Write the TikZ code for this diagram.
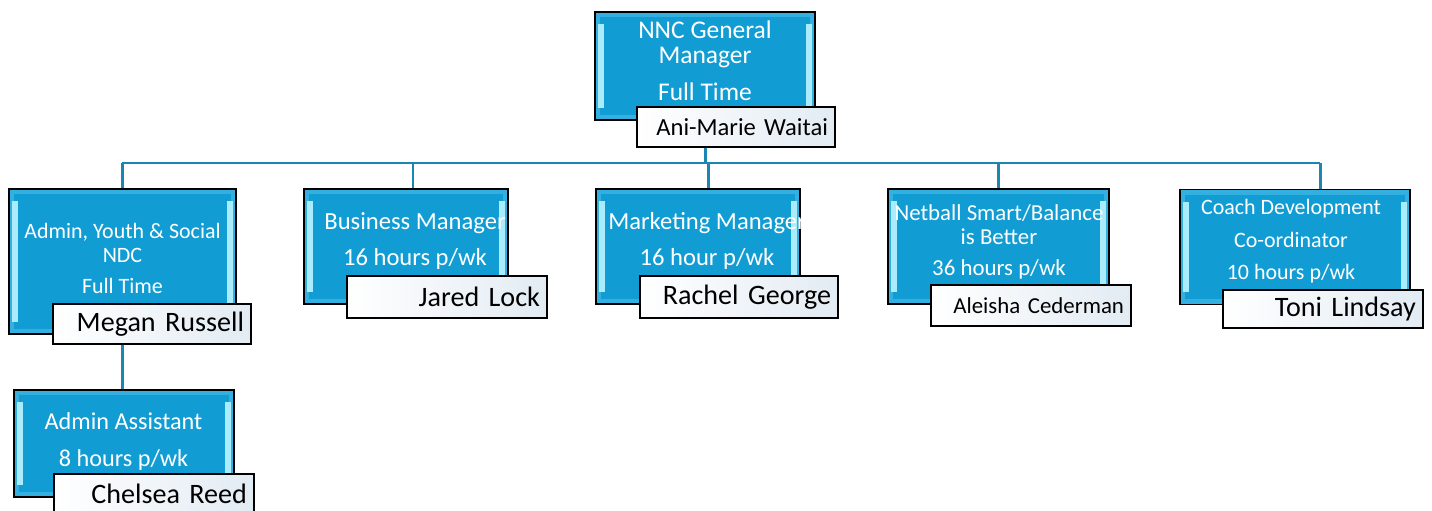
\documentclass[tikz,border=0pt]{standalone}
\usepackage{fontspec}
\setmainfont{Carlito}
\usetikzlibrary{backgrounds}
\definecolor{rolefill}{RGB}{17,157,211}
\definecolor{rolerim}{RGB}{52,176,224}
\definecolor{roleshine}{RGB}{170,236,252}
\definecolor{namefill}{RGB}{226,235,243}
\definecolor{linkblue}{RGB}{27,133,180}
\tikzset{
  rolebox/.style={rectangle, draw=black, line width=1pt, fill=rolefill, inner sep=0pt,
    path picture={
      \draw[rolerim, line width=6pt] (path picture bounding box.south west) rectangle (path picture bounding box.north east);
      \draw[roleshine, line width=3pt] ([shift={(0.12cm,0.24cm)}]path picture bounding box.south west) -- ([shift={(0.12cm,-0.24cm)}]path picture bounding box.north west);
      \draw[roleshine, line width=3pt] ([shift={(-0.12cm,0.24cm)}]path picture bounding box.south east) -- ([shift={(-0.12cm,-0.24cm)}]path picture bounding box.north east);
    }},
  roletext/.style={text=white, align=center, anchor=north, inner sep=0pt},
  namebox/.style={rectangle, draw=black, line width=0.9pt, left color=white, right color=namefill,
    minimum height=0.8cm, inner xsep=0.14cm, inner ysep=0pt, align=right, text width=3.68cm,
    font=\fontsize{16}{18}\selectfont},
  link/.style={draw=linkblue, line width=1.7pt},
}
\begin{document}
\begin{tikzpicture}[x=0.02cm, y=-0.02cm]
\useasboundingbox (0,0) rectangle (1432,510);
% boxes
\node[rolebox, minimum width=4.4cm, minimum height=2.16cm] (gm) at (705,66) {};
\node[rolebox, minimum width=4.54cm, minimum height=2.9cm] (adm) at (122.5,261.5) {};
\node[rolebox, minimum width=4.4cm, minimum height=2.14cm] (aa) at (124,443.5) {};
\node[rolebox, minimum width=4.08cm, minimum height=2.3cm] (bm) at (406,246.5) {};
\node[rolebox, minimum width=4.08cm, minimum height=2.3cm] (mm) at (698,246.5) {};
\node[rolebox, minimum width=4.42cm, minimum height=2.3cm] (nb) at (998.5,246.5) {};
\node[rolebox, minimum width=4.6cm, minimum height=2.3cm] (cd) at (1295,247) {};
% titles
\node[roletext, font=\fontsize{14.5}{14.7}\selectfont] (gmtitle) at (705,20) {NNC General\\Manager\\[6.3pt]Full Time};
\node[roletext, font=\fontsize{12.5}{13.6}\selectfont] (admtitle) at (122.5,223) {Admin, Youth \& Social\\NDC\\[4pt]Full Time};
\node[roletext, font=\fontsize{13.8}{21}\selectfont] (aatitle) at (123.5,412) {Admin Assistant\\8 hours p/wk};
\node[roletext, font=\fontsize{14}{20.4}\selectfont] (bmtitle) at (415,212) {Business Manager\\16 hours p/wk};
\node[roletext, font=\fontsize{14}{20.4}\selectfont] (mmtitle) at (707,212) {Marketing Manager\\16 hour p/wk};
\node[roletext, font=\fontsize{13}{13.6}\selectfont] (nbtitle) at (999,204) {Netball Smart/Balance\\is Better\\[4.4pt]36 hours p/wk};
\node[roletext, font=\fontsize{12.5}{18.5}\selectfont] (cdtitle) at (1291,199) {Coach Development\\Co-ordinator\\10 hours p/wk};
% names
\node[namebox, font=\fontsize{14}{16}\selectfont] (gmname) at (736,127) {Ani-Marie Waitai};
\node[namebox] (admname) at (152,324) {Megan Russell};
\node[namebox, text width=3.72cm] (aaname) at (154,494) {Chelsea Reed};
\node[namebox, text width=3.72cm, minimum height=0.84cm] (bmname) at (447,297) {Jared Lock};
\node[namebox, minimum height=0.84cm] (mmname) at (739,297) {Rachel George};
\node[namebox, text width=3.72cm, minimum height=0.82cm, font=\fontsize{13}{15}\selectfont] (nbname) at (1031,305.5) {Aleisha Cederman};
\node[namebox, text width=3.72cm, minimum height=0.76cm] (cdname) at (1323,309) {Toni Lindsay};
% lines
\coordinate (busw) at (122,163);
\coordinate (buse) at (1320,163);
\begin{scope}[on background layer]
\draw[link] (busw) -- (buse);
\draw[link] (gm.south) -- (gm.south |- busw);
\draw[link] (adm.north) -- (adm.north |- busw);
\draw[link] ([xshift=0.14cm]bm.north) |- (busw);
\draw[link] ([xshift=0.2cm]mm.north) |- (busw);
\draw[link] (nb.north) |- (busw);
\draw[link] (buse) -- (buse |- cd.north);
\draw[link] (adm.south) -- (adm.south |- aa.north);
\end{scope}
\end{tikzpicture}
\end{document}
